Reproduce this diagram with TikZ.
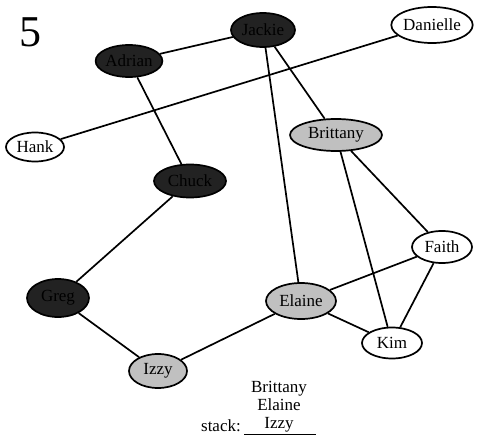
\documentclass[tikz,border=0pt]{standalone}
\usepackage{fontspec}
\setmainfont{Liberation Serif}
\usepackage{tikz}
\usetikzlibrary{shapes.geometric}

\definecolor{visited}{HTML}{222222}
\definecolor{onstack}{HTML}{C0C0C0}

\begin{document}
\begin{tikzpicture}[x=1pt,y=-1pt, every node/.style={font=\fontsize{17}{19}\selectfont},
    person/.style={ellipse, draw, line width=1.7pt, inner sep=0pt},
    sz/.style 2 args={minimum width=#1pt, minimum height=#2pt},
    edge/.style={line width=1.7pt}]
            \useasboundingbox (0,0) rectangle (481,441);
            \node[font=\fontsize{44}{46}\selectfont] (num) at (30,32) {5};

            \node[person, fill=visited, sz={64}{34}] (jackie) at (263,30) {Jackie};
            \node[person, fill=visited, sz={64}{32}] (adrian) at (129,61) {Adrian};
            \node[person, fill=white, sz={58}{29}] (hank) at (35,147) {Hank};
            \node[person, fill=visited, sz={72}{33}] (chuck) at (190,181) {Chuck};
            \node[person, fill=white, sz={75}{36}] (danielle) at (432,25) {Danielle};
            \node[person, fill=onstack, sz={92}{32}] (brittany) at (336,135) {Brittany};
            \node[person, fill=visited, sz={62}{38}] (greg) at (58,298) {Greg};
            \node[person, fill=onstack, sz={58}{34}] (izzy) at (158,371) {Izzy};
            \node[person, fill=onstack, sz={70}{36}] (elaine) at (301,301) {Elaine};
            \node[person, fill=white, sz={60}{32}] (faith) at (442,247) {Faith};
            \node[person, fill=white, sz={60}{31}] (kim) at (392,343) {Kim};

            \draw[edge] (adrian) -- (jackie);
            \draw[edge] (adrian) -- (chuck);
            \draw[edge] (jackie) -- (brittany);
            \draw[edge] (jackie) -- (elaine);
            \draw[edge] (danielle) -- (hank);
            \draw[edge] (chuck) -- (greg);
            \draw[edge] (greg) -- (izzy);
            \draw[edge] (izzy) -- (elaine);
            \draw[edge] (elaine) -- (faith);
            \draw[edge] (elaine) -- (kim);
            \draw[edge] (brittany) -- (faith);
            \draw[edge] (brittany) -- (kim);
            \draw[edge] (faith) -- (kim);

            % stack
            \node[align=center, inner sep=0pt, font=\fontsize{17}{18}\selectfont] (stk) at (279,407) {Brittany\\Elaine\\Izzy};
            \node[anchor=base east, inner sep=0pt] (stklabel) at (241,431) {stack:};
            \draw[line width=1pt] (244,434) -- (316,434);
        \end{tikzpicture}
\end{document}
